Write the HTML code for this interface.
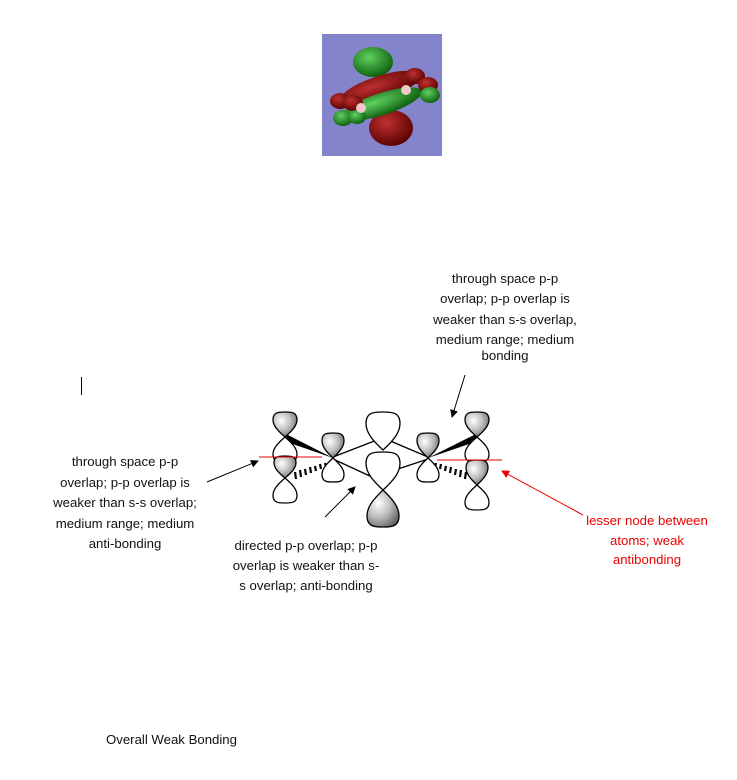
<!DOCTYPE html>
<html><head><meta charset="utf-8"><style>
html,body{margin:0;padding:0;background:#fff;}
body{width:737px;height:780px;position:relative;overflow:hidden;}
svg{position:absolute;left:0;top:0;}
text{font-family:"Liberation Sans",sans-serif;font-size:13.2px;fill:#111;}
</style></head><body>
<svg width="737" height="780" viewBox="0 0 737 780">
<defs>
<radialGradient id="sh" cx="0.35" cy="0.35" r="0.8">
<stop offset="0" stop-color="#ffffff"/><stop offset="0.5" stop-color="#bbbbbb"/><stop offset="1" stop-color="#555555"/>
</radialGradient>
<radialGradient id="gr" cx="0.4" cy="0.35" r="0.7"><stop offset="0" stop-color="#60d060"/><stop offset="1" stop-color="#0a5a0a"/></radialGradient>
<radialGradient id="rd" cx="0.4" cy="0.35" r="0.7"><stop offset="0" stop-color="#c03030"/><stop offset="1" stop-color="#550000"/></radialGradient>
<marker id="ab" markerWidth="8" markerHeight="8" refX="7" refY="4" orient="auto" markerUnits="userSpaceOnUse"><path d="M0,0 L8,4 L0,8 z" fill="#000"/></marker>
<marker id="ar" markerWidth="8" markerHeight="8" refX="7" refY="4" orient="auto" markerUnits="userSpaceOnUse"><path d="M0,0 L8,4 L0,8 z" fill="#e00"/></marker>
</defs>
<rect x="322" y="34" width="120" height="122" fill="#8484cc"/>
<ellipse cx="373" cy="62" rx="20" ry="15" fill="url(#gr)"/>
<ellipse cx="391" cy="128" rx="22" ry="18" fill="url(#rd)"/>
<ellipse cx="380" cy="88" rx="42" ry="12" transform="rotate(-18 380 88)" fill="url(#rd)"/>
<ellipse cx="382" cy="104" rx="42" ry="11" transform="rotate(-18 382 104)" fill="url(#gr)"/>
<ellipse cx="415" cy="76" rx="10" ry="8" fill="url(#rd)"/>
<ellipse cx="428" cy="85" rx="10" ry="8" fill="url(#rd)"/>
<ellipse cx="430" cy="95" rx="10" ry="8" fill="url(#gr)"/>
<ellipse cx="340" cy="101" rx="10" ry="8" fill="url(#rd)"/>
<ellipse cx="353" cy="103" rx="10" ry="8" fill="url(#rd)"/>
<ellipse cx="343" cy="118" rx="10" ry="8" fill="url(#gr)"/>
<ellipse cx="357" cy="117" rx="9" ry="7" fill="url(#gr)"/>
<circle cx="406" cy="90" r="5" fill="#f0c8c8"/>
<circle cx="361" cy="108" r="5" fill="#f0c8c8"/>

<path d="M333,458 L286,434 L284,441 Z" fill="#000"/>
<path d="M428,458 L476,434 L478,441 Z" fill="#000"/>
<g stroke="#000" stroke-width="2.2">
<line x1="325" y1="463" x2="326" y2="467"/><line x1="320" y1="464" x2="321" y2="469"/><line x1="315" y1="466" x2="316" y2="471"/><line x1="310" y1="467" x2="311" y2="473"/><line x1="305" y1="469" x2="306" y2="475"/><line x1="300" y1="470" x2="301" y2="477"/><line x1="295" y1="472" x2="296" y2="479"/>
<line x1="436" y1="463" x2="435" y2="467"/><line x1="441" y1="464" x2="440" y2="469"/><line x1="446" y1="466" x2="445" y2="471"/><line x1="451" y1="467" x2="450" y2="473"/><line x1="456" y1="469" x2="455" y2="475"/><line x1="461" y1="470" x2="460" y2="477"/><line x1="466" y1="472" x2="465" y2="479"/>
</g>
<g stroke="#000" stroke-width="1.3" fill="none">
<line x1="333" y1="457" x2="377" y2="440"/><line x1="333" y1="459" x2="372" y2="477"/>
<line x1="428" y1="457" x2="388" y2="440"/><line x1="428" y1="459" x2="392" y2="471"/>
</g>
<g id="lobes" stroke="#000" stroke-width="1.3"></g>

<line x1="259" y1="457" x2="322" y2="457" stroke="#e00" stroke-width="1"/>
<line x1="437" y1="460" x2="502" y2="460" stroke="#e00" stroke-width="1"/>
<line x1="207" y1="482" x2="258" y2="461" stroke="#000" stroke-width="1" marker-end="url(#ab)"/>
<line x1="325" y1="517" x2="355" y2="487" stroke="#000" stroke-width="1" marker-end="url(#ab)"/>
<line x1="465" y1="375" x2="452" y2="417" stroke="#000" stroke-width="1" marker-end="url(#ab)"/>
<line x1="583" y1="515" x2="502" y2="471" stroke="#e00" stroke-width="1" marker-end="url(#ar)"/>
<line x1="81.5" y1="377" x2="81.5" y2="395" stroke="#000" stroke-width="1"/>
<g text-anchor="middle">
<text x="505" y="283">through space p-p</text>
<text x="505" y="303">overlap; p-p overlap is</text>
<text x="505" y="324">weaker than s-s overlap,</text>
<text x="505" y="344">medium range; medium</text>
<text x="505" y="360">bonding</text>
<text x="125" y="466">through space p-p</text>
<text x="125" y="487">overlap; p-p overlap is</text>
<text x="125" y="507">weaker than s-s overlap;</text>
<text x="125" y="528">medium range; medium</text>
<text x="125" y="548">anti-bonding</text>
<text x="306" y="550">directed p-p overlap; p-p</text>
<text x="306" y="570">overlap is weaker than s-</text>
<text x="306" y="590">s overlap; anti-bonding</text>
<text x="647" y="525" style="fill:#e00">lesser node between</text>
<text x="647" y="545" style="fill:#e00">atoms; weak</text>
<text x="647" y="564" style="fill:#e00">antibonding</text>
</g>
<text x="106" y="744">Overall Weak Bonding</text>
</svg>
<script>
(function(){
var g=document.getElementById('lobes');
function lobe(x,y,end,w,fill){
 var L=end-y;
 var d='M'+x+','+y+' C'+(x-w*0.6)+','+(y+L*0.25)+' '+(x-w)+','+(y+L*0.45)+' '+(x-w)+','+(y+L*0.7)+
 ' C'+(x-w)+','+(y+L*1.0)+' '+(x-w*0.5)+','+end+' '+x+','+end+
 ' C'+(x+w*0.5)+','+end+' '+(x+w)+','+(y+L*1.0)+' '+(x+w)+','+(y+L*0.7)+
 ' C'+(x+w)+','+(y+L*0.45)+' '+(x+w*0.6)+','+(y+L*0.25)+' '+x+','+y+' Z';
 var p=document.createElementNS('http://www.w3.org/2000/svg','path');
 p.setAttribute('d',d);p.setAttribute('fill',fill);g.appendChild(p);
}
var S='url(#sh)',W='#fff';
lobe(285,437,412,12,S);lobe(285,437,462,12,W);
lobe(285,478,456,11,S);lobe(285,478,503,12,W);
lobe(333,458,433,11,S);lobe(333,458,482,11,W);
lobe(383,450,412,17,W);lobe(383,490,452,17,W);lobe(383,490,527,16,S);
lobe(428,458,433,11,S);lobe(428,458,482,11,W);
lobe(477,437,412,12,S);lobe(477,437,462,12,W);
lobe(477,485,460,11,S);lobe(477,485,510,12,W);
})();
</script>
</body></html>
